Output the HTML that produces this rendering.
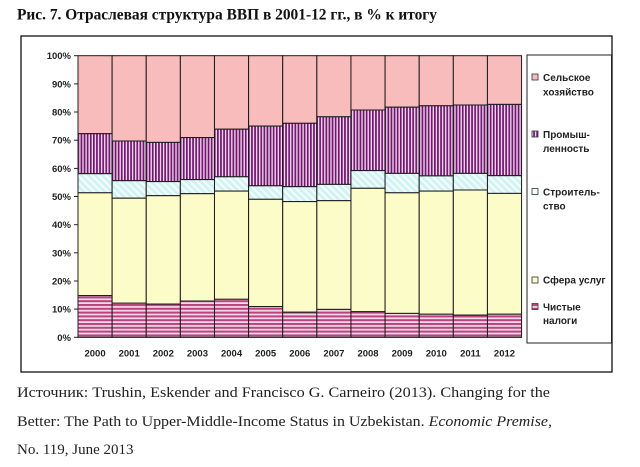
<!DOCTYPE html>
<html><head><meta charset="utf-8"><style>
html,body{margin:0;padding:0;background:#fff;}
svg{display:block;}
</style></head><body>
<svg width="640" height="467" viewBox="0 0 640 467" xmlns="http://www.w3.org/2000/svg">
<defs>
<pattern id="ind" patternUnits="userSpaceOnUse" width="3.1" height="10">
<rect width="3.1" height="10" fill="#f3d3ef"/>
<rect width="1.7" height="10" fill="#6e176c"/>
</pattern>
<pattern id="tax" patternUnits="userSpaceOnUse" width="10" height="3.8">
<rect width="10" height="3.8" fill="#f6d8e8"/>
<rect width="10" height="2" fill="#b8447f"/>
</pattern>
<pattern id="con" patternUnits="userSpaceOnUse" width="5" height="5" patternTransform="rotate(-45)">
<rect width="5" height="5" fill="#d3f3f3"/>
<rect width="2" height="5" fill="#f3fdfd"/>
</pattern>
</defs>
<text x="17" y="19.5" font-family="Liberation Serif, serif" font-weight="bold" font-size="15.5" fill="#111" textLength="420" lengthAdjust="spacingAndGlyphs">Рис. 7. Отраслевая структура ВВП в 2001-12 гг., в % к итогу</text>
<rect x="21" y="36" width="591" height="336" fill="#fff" stroke="#111" stroke-width="1.3"/>
<g stroke="#1a1a1a" stroke-width="1">
<rect x="78" y="55.7" width="34.12" height="78.0" fill="#f8bcbc"/>
<rect x="78" y="133.7" width="34.12" height="40.0" fill="url(#ind)"/>
<rect x="78" y="173.7" width="34.12" height="19.1" fill="url(#con)"/>
<rect x="78" y="192.8" width="34.12" height="102.8" fill="#fcfcc8"/>
<rect x="78" y="295.6" width="34.12" height="41.7" fill="url(#tax)"/>
<rect x="112.12" y="55.7" width="34.12" height="85.3" fill="#f8bcbc"/>
<rect x="112.12" y="141.0" width="34.12" height="39.7" fill="url(#ind)"/>
<rect x="112.12" y="180.7" width="34.12" height="17.5" fill="url(#con)"/>
<rect x="112.12" y="198.2" width="34.12" height="105.0" fill="#fcfcc8"/>
<rect x="112.12" y="303.2" width="34.12" height="34.1" fill="url(#tax)"/>
<rect x="146.24" y="55.7" width="34.12" height="86.7" fill="#f8bcbc"/>
<rect x="146.24" y="142.4" width="34.12" height="39.2" fill="url(#ind)"/>
<rect x="146.24" y="181.6" width="34.12" height="14.1" fill="url(#con)"/>
<rect x="146.24" y="195.7" width="34.12" height="108.4" fill="#fcfcc8"/>
<rect x="146.24" y="304.1" width="34.12" height="33.2" fill="url(#tax)"/>
<rect x="180.36" y="55.7" width="34.12" height="81.9" fill="#f8bcbc"/>
<rect x="180.36" y="137.6" width="34.12" height="42.0" fill="url(#ind)"/>
<rect x="180.36" y="179.6" width="34.12" height="14.1" fill="url(#con)"/>
<rect x="180.36" y="193.7" width="34.12" height="107.3" fill="#fcfcc8"/>
<rect x="180.36" y="301.0" width="34.12" height="36.3" fill="url(#tax)"/>
<rect x="214.48" y="55.7" width="34.12" height="73.5" fill="#f8bcbc"/>
<rect x="214.48" y="129.2" width="34.12" height="47.6" fill="url(#ind)"/>
<rect x="214.48" y="176.8" width="34.12" height="14.3" fill="url(#con)"/>
<rect x="214.48" y="191.1" width="34.12" height="108.2" fill="#fcfcc8"/>
<rect x="214.48" y="299.3" width="34.12" height="38.0" fill="url(#tax)"/>
<rect x="248.6" y="55.7" width="34.12" height="70.4" fill="#f8bcbc"/>
<rect x="248.6" y="126.1" width="34.12" height="59.7" fill="url(#ind)"/>
<rect x="248.6" y="185.8" width="34.12" height="13.5" fill="url(#con)"/>
<rect x="248.6" y="199.3" width="34.12" height="107.3" fill="#fcfcc8"/>
<rect x="248.6" y="306.6" width="34.12" height="30.7" fill="url(#tax)"/>
<rect x="282.72" y="55.7" width="34.12" height="67.6" fill="#f8bcbc"/>
<rect x="282.72" y="123.3" width="34.12" height="63.4" fill="url(#ind)"/>
<rect x="282.72" y="186.7" width="34.12" height="14.9" fill="url(#con)"/>
<rect x="282.72" y="201.6" width="34.12" height="110.6" fill="#fcfcc8"/>
<rect x="282.72" y="312.2" width="34.12" height="25.1" fill="url(#tax)"/>
<rect x="316.84" y="55.7" width="34.12" height="61.1" fill="#f8bcbc"/>
<rect x="316.84" y="116.8" width="34.12" height="67.6" fill="url(#ind)"/>
<rect x="316.84" y="184.4" width="34.12" height="16.3" fill="url(#con)"/>
<rect x="316.84" y="200.7" width="34.12" height="108.7" fill="#fcfcc8"/>
<rect x="316.84" y="309.4" width="34.12" height="27.9" fill="url(#tax)"/>
<rect x="350.96" y="55.7" width="34.12" height="54.3" fill="#f8bcbc"/>
<rect x="350.96" y="110.0" width="34.12" height="60.6" fill="url(#ind)"/>
<rect x="350.96" y="170.6" width="34.12" height="17.7" fill="url(#con)"/>
<rect x="350.96" y="188.3" width="34.12" height="123.4" fill="#fcfcc8"/>
<rect x="350.96" y="311.7" width="34.12" height="25.6" fill="url(#tax)"/>
<rect x="385.08" y="55.7" width="34.12" height="51.5" fill="#f8bcbc"/>
<rect x="385.08" y="107.2" width="34.12" height="66.2" fill="url(#ind)"/>
<rect x="385.08" y="173.4" width="34.12" height="19.4" fill="url(#con)"/>
<rect x="385.08" y="192.8" width="34.12" height="120.6" fill="#fcfcc8"/>
<rect x="385.08" y="313.4" width="34.12" height="23.9" fill="url(#tax)"/>
<rect x="419.2" y="55.7" width="34.12" height="50.1" fill="#f8bcbc"/>
<rect x="419.2" y="105.8" width="34.12" height="70.1" fill="url(#ind)"/>
<rect x="419.2" y="175.9" width="34.12" height="15.2" fill="url(#con)"/>
<rect x="419.2" y="191.1" width="34.12" height="123.1" fill="#fcfcc8"/>
<rect x="419.2" y="314.2" width="34.12" height="23.1" fill="url(#tax)"/>
<rect x="453.32" y="55.7" width="34.12" height="49.3" fill="#f8bcbc"/>
<rect x="453.32" y="105.0" width="34.12" height="68.4" fill="url(#ind)"/>
<rect x="453.32" y="173.4" width="34.12" height="16.6" fill="url(#con)"/>
<rect x="453.32" y="190.0" width="34.12" height="125.1" fill="#fcfcc8"/>
<rect x="453.32" y="315.1" width="34.12" height="22.2" fill="url(#tax)"/>
<rect x="487.44" y="55.7" width="34.12" height="48.7" fill="#f8bcbc"/>
<rect x="487.44" y="104.4" width="34.12" height="71.3" fill="url(#ind)"/>
<rect x="487.44" y="175.7" width="34.12" height="17.7" fill="url(#con)"/>
<rect x="487.44" y="193.4" width="34.12" height="120.8" fill="#fcfcc8"/>
<rect x="487.44" y="314.2" width="34.12" height="23.1" fill="url(#tax)"/>
</g>
<g stroke="#222" stroke-width="1">
<line x1="78" y1="55.7" x2="78" y2="337.3"/>
<line x1="78" y1="337.3" x2="521.6" y2="337.3"/>
<line x1="74" y1="337.3" x2="78" y2="337.3"/>
<line x1="74" y1="309.1" x2="78" y2="309.1"/>
<line x1="74" y1="281.0" x2="78" y2="281.0"/>
<line x1="74" y1="252.8" x2="78" y2="252.8"/>
<line x1="74" y1="224.7" x2="78" y2="224.7"/>
<line x1="74" y1="196.5" x2="78" y2="196.5"/>
<line x1="74" y1="168.4" x2="78" y2="168.4"/>
<line x1="74" y1="140.2" x2="78" y2="140.2"/>
<line x1="74" y1="112.0" x2="78" y2="112.0"/>
<line x1="74" y1="83.9" x2="78" y2="83.9"/>
<line x1="74" y1="55.7" x2="78" y2="55.7"/>
</g>
<g font-family="Liberation Sans, sans-serif" font-weight="bold" font-size="9.5" fill="#222" text-anchor="end">
<text x="71" y="340.8">0%</text>
<text x="71" y="312.6">10%</text>
<text x="71" y="284.5">20%</text>
<text x="71" y="256.3">30%</text>
<text x="71" y="228.2">40%</text>
<text x="71" y="200.0">50%</text>
<text x="71" y="171.9">60%</text>
<text x="71" y="143.7">70%</text>
<text x="71" y="115.5">80%</text>
<text x="71" y="87.4">90%</text>
<text x="71" y="59.2">100%</text>
</g>
<g font-family="Liberation Sans, sans-serif" font-weight="bold" font-size="9.5" fill="#222" text-anchor="middle">
<text x="95.06" y="356.5">2000</text>
<text x="129.18" y="356.5">2001</text>
<text x="163.3" y="356.5">2002</text>
<text x="197.42" y="356.5">2003</text>
<text x="231.54" y="356.5">2004</text>
<text x="265.66" y="356.5">2005</text>
<text x="299.78" y="356.5">2006</text>
<text x="333.9" y="356.5">2007</text>
<text x="368.02" y="356.5">2008</text>
<text x="402.14" y="356.5">2009</text>
<text x="436.26" y="356.5">2010</text>
<text x="470.38" y="356.5">2011</text>
<text x="504.5" y="356.5">2012</text>
</g>
<rect x="527" y="55" width="84.5" height="288" fill="#fff" stroke="#222" stroke-width="1"/>
<g stroke="#333" stroke-width="0.8">
<rect x="532" y="74" width="6" height="6" fill="#f8bcbc"/>
<rect x="532" y="131" width="6" height="6" fill="url(#ind)"/>
<rect x="532" y="188.5" width="6" height="6" fill="#f4fcfc"/>
<rect x="532" y="277" width="6" height="6" fill="#fcfcc8"/>
<rect x="532" y="303.5" width="6" height="6" fill="url(#tax)"/>
</g>
<g font-family="Liberation Sans, sans-serif" font-weight="bold" font-size="10" fill="#222">
<text x="543" y="81">Сельское</text>
<text x="543" y="95.3">хозяйство</text>
<text x="543" y="138">Промыш-</text>
<text x="543" y="152">ленность</text>
<text x="543" y="195.4">Строитель-</text>
<text x="543" y="209.7">ство</text>
<text x="543" y="283.6">Сфера услуг</text>
<text x="543" y="310.3">Чистые</text>
<text x="543" y="323.8">налоги</text>
</g>
<g font-family="Liberation Serif, serif" font-size="15" fill="#222">
<text x="17" y="397" textLength="533" lengthAdjust="spacingAndGlyphs">Источник: Trushin, Eskender and Francisco G. Carneiro (2013). Changing for the</text>
<text x="17" y="426" textLength="535" lengthAdjust="spacingAndGlyphs">Better: The Path to Upper-Middle-Income Status in Uzbekistan. <tspan font-style="italic">Economic Premise</tspan>,</text>
<text x="17" y="454">No. 119, June 2013</text>
</g>
</svg>
</body></html>
